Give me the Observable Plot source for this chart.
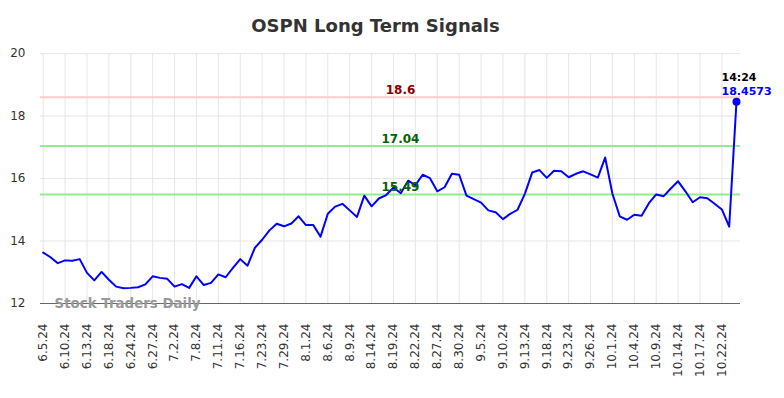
<!DOCTYPE html>
<html>
<head>
<meta charset="utf-8">
<script src="https://cdn.jsdelivr.net/npm/d3@7"></script>
<script src="https://cdn.jsdelivr.net/npm/@observablehq/plot@0.6"></script>
<style>
  html, body { margin: 0; padding: 0; background: #fff; }
  #chart { width: 784px; height: 398px; }
</style>
</head>
<body>
<div id="chart"></div>
<script>
const title = "OSPN Long Term Signals";
const watermark = "Stock Traders Daily";
const tickLabels = ["6.5.24","6.10.24","6.13.24","6.18.24","6.24.24","6.27.24","7.2.24","7.8.24","7.11.24","7.16.24","7.23.24","7.29.24","8.1.24","8.6.24","8.9.24","8.14.24","8.19.24","8.22.24","8.27.24","8.30.24","9.5.24","9.10.24","9.13.24","9.18.24","9.23.24","9.26.24","10.1.24","10.4.24","10.9.24","10.14.24","10.17.24","10.22.24"];
const tickEvery = 3;
const prices = [
  13.63, 13.48, 13.29, 13.38, 13.37, 13.42, 12.98, 12.74, 13.01, 12.76,
  12.54, 12.49, 12.50, 12.52, 12.61, 12.87, 12.82, 12.79, 12.54, 12.62,
  12.50, 12.87, 12.59, 12.66, 12.93, 12.84, 13.14, 13.42, 13.21, 13.78,
  14.04, 14.34, 14.55, 14.47, 14.56, 14.79, 14.51, 14.51, 14.14, 14.87,
  15.10, 15.19, 14.98, 14.77, 15.45, 15.11, 15.36, 15.47, 15.71, 15.53,
  15.93, 15.79, 16.12, 16.01, 15.59, 15.72, 16.15, 16.12, 15.45, 15.34,
  15.23, 14.98, 14.92, 14.70, 14.87, 15.00, 15.51, 16.19, 16.27, 16.02,
  16.25, 16.23, 16.04, 16.15, 16.23, 16.13, 16.03, 16.67, 15.51, 14.79,
  14.68, 14.84, 14.81, 15.21, 15.49, 15.43, 15.68, 15.91, 15.59, 15.24,
  15.40, 15.37, 15.19, 15.01, 14.46, 18.4573
];
const signalLevels = [18.6, 17.04, 15.49];
const signalLabels = ["18.6", "17.04", "15.49"];
const signalLineColors = ["#ffcccc", "#90ee90", "#90ee90"];
const signalTextColors = ["#8b0000", "#006400", "#006400"];
const lastTime = "14:24";
const yTicks = [12, 14, 16, 18, 20];

const series = prices.map((v, i) => ({i, v}));
const signals = signalLevels.map((v, k) => ({v, label: signalLabels[k], line: signalLineColors[k], text: signalTextColors[k]}));
const last = series[series.length - 1];
const xTicks = tickLabels.map((_, k) => k * tickEvery);

const chart = Plot.plot({
  width: 784,
  height: 398,
  marginLeft: 40,
  marginRight: 44,
  marginTop: 53,
  marginBottom: 95,
  style: {fontFamily: "DejaVu Sans, sans-serif", color: "#333", background: "#fff"},
  x: {domain: [-0.37, 95.55], label: null},
  y: {domain: [12, 20], label: null},
  marks: [
    Plot.gridY(yTicks, {stroke: "#e6e6e6", strokeOpacity: 1}),
    Plot.gridX(xTicks, {stroke: "#e6e6e6", strokeOpacity: 1}),
    Plot.ruleY(signals, {y: "v", stroke: "line", strokeWidth: 2}),
    Plot.ruleY([12], {stroke: "#666", strokeWidth: 1}),
    Plot.axisY(yTicks, {tickSize: 0, tickPadding: 15, fontSize: 12, fill: "#333", label: null}),
    Plot.axisX(xTicks, {tickSize: 0, tickPadding: 20, tickRotate: -90, fontSize: 12, fill: "#333", label: null,
      tickFormat: d => tickLabels[d / tickEvery]}),
    Plot.text([watermark], {frameAnchor: "bottom-left", dx: 14, dy: 0, textAnchor: "start", lineAnchor: "middle",
      fontSize: 13.4, fontWeight: "bold", fill: "#999", text: d => d}),
    Plot.line(series, {x: "i", y: "v", stroke: "#0000ff", strokeWidth: 2}),
    Plot.dot([last], {x: "i", y: "v", r: 4, fill: "#0000ff"}),
    Plot.text(signals, {y: "v", text: "label", fill: "text", frameAnchor: "middle", dx: 10, dy: -7,
      fontSize: 12, fontWeight: "bold", lineAnchor: "middle"}),
    Plot.text([last], {x: "i", y: "v", text: () => lastTime, dx: -15, dy: -24, textAnchor: "start",
      fontSize: 11, fontWeight: "bold", fill: "#000"}),
    Plot.text([last], {x: "i", y: "v", text: d => String(d.v), dx: -15, dy: -10, textAnchor: "start",
      fontSize: 11, fontWeight: "bold", fill: "#0000ff"}),
    Plot.text([title], {frameAnchor: "top", dx: -15, dy: -27, text: d => d, fontSize: 18, fontWeight: "bold",
      fill: "#333", lineAnchor: "middle"})
  ]
});
document.getElementById("chart").appendChild(chart);
</script>
</body>
</html>
